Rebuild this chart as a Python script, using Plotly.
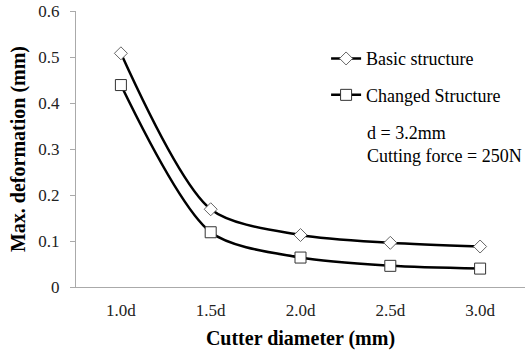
import plotly.graph_objects as go

categories = ["1.0d", "1.5d", "2.0d", "2.5d", "3.0d"]
basic = [0.508, 0.169, 0.113, 0.096, 0.088]
changed = [0.439, 0.119, 0.064, 0.046, 0.040]
y_ticks = [0, 0.1, 0.2, 0.3, 0.4, 0.5, 0.6]
y_tick_labels = ["0", "0.1", "0.2", "0.3", "0.4", "0.5", "0.6"]

font_family = "Liberation Serif"

fig = go.Figure()
fig.add_trace(go.Scatter(
    x=categories, y=basic, name="Basic structure", mode="lines+markers", legendgroup="a",
    line=dict(color="black", width=2.5, shape="spline", smoothing=0.8),
    marker=dict(symbol="diamond", size=10, color="white", line=dict(color="#666666", width=1)),
))
fig.add_trace(go.Scatter(
    x=categories, y=changed, name="Changed Structure", mode="lines+markers", legendgroup="b",
    line=dict(color="black", width=2.5, shape="spline", smoothing=0.8),
    marker=dict(symbol="square", size=11, color="white", line=dict(color="#333333", width=1)),
))

fig.add_annotation(
    x=0.643, y=0.515, xref="paper", yref="paper", showarrow=False,
    text="d = 3.2mm<br>Cutting force = 250N", align="left",
    xanchor="left", yanchor="middle",
    font=dict(family=font_family, size=18, color="black"),
)

fig.update_layout(
    width=525, height=350,
    margin=dict(l=76, r=0, t=11, b=63),
    paper_bgcolor="white", plot_bgcolor="white",
    font=dict(family=font_family, size=17, color="#222222"),
    showlegend=True,
    legend=dict(
        x=0.557, y=0.894, xanchor="left", yanchor="top",
        bgcolor="rgba(0,0,0,0)", font=dict(family=font_family, size=18, color="black"),
        itemwidth=30, tracegroupgap=10,
    ),
    xaxis=dict(
        type="category", range=[-0.5, 4.5], showline=True, linecolor="#aaaaaa", linewidth=1,
        ticks="", showgrid=False, zeroline=False, automargin=False, ticklabelstandoff=8,
        title=dict(text="<b>Cutter diameter (mm)</b>", font=dict(family=font_family, size=20, color="black"), standoff=11),
        tickfont=dict(family=font_family, size=17, color="#222222"),
    ),
    yaxis=dict(
        range=[0, 0.6], tickvals=y_ticks, ticktext=y_tick_labels, automargin=False,
        showline=True, linecolor="#aaaaaa", linewidth=1, ticks="outside", ticklen=5, tickcolor="#aaaaaa",
        showgrid=False, zeroline=False, ticklabelstandoff=7, ticklabeloverflow="allow",
        title=dict(text="<b>Max. deformation (mm)</b>", font=dict(family=font_family, size=20, color="black"), standoff=7),
        tickfont=dict(family=font_family, size=17, color="#222222"),
    ),
)

fig.write_html("out.html", config={"displayModeBar": False},
               post_script="document.body.style.margin='0';")
